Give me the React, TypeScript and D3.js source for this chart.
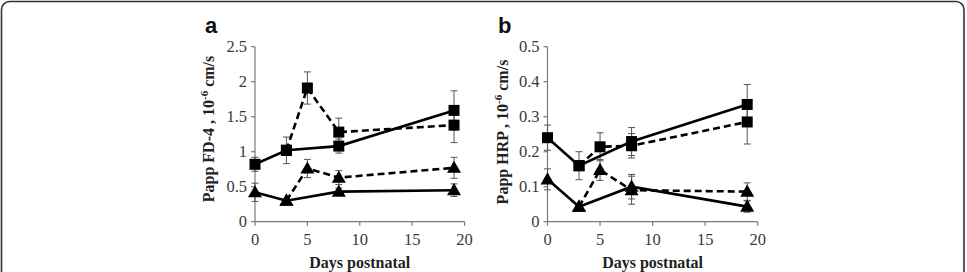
import React from "react";
import * as d3 from "d3";

// Panel a: Papp FD-4 (10^-6 cm/s) by postnatal day
const fd4SolidSqDays = [0, 3, 8, 19];
const fd4SolidSq = [0.82, 1.02, 1.08, 1.59];
const fd4SolidSqErr = [0.1, 0.19, 0.1, 0.28];
const fd4DashSqDays = [3, 5, 8, 19];
const fd4DashSq = [1.02, 1.91, 1.28, 1.38];
const fd4DashSqErr = [0, 0.23, 0.2, 0.25];
const fd4SolidTriDays = [0, 3, 8, 19];
const fd4SolidTri = [0.42, 0.3, 0.43, 0.45];
const fd4SolidTriErr = [0.13, 0.03, 0.05, 0.09];
const fd4DashTriDays = [3, 5, 8, 19];
const fd4DashTri = [0.3, 0.76, 0.63, 0.77];
const fd4DashTriErr = [0, 0.13, 0.1, 0.15];

// Panel b: Papp HRP (10^-6 cm/s) by postnatal day
const hrpSolidSqDays = [0, 3, 8, 19];
const hrpSolidSq = [0.24, 0.16, 0.229, 0.335];
const hrpSolidSqErr = [0.036, 0.04, 0.04, 0.057];
const hrpDashSqDays = [3, 5, 8, 19];
const hrpDashSq = [0.16, 0.214, 0.217, 0.285];
const hrpDashSqErr = [0, 0.04, 0.035, 0.063];
const hrpSolidTriDays = [0, 3, 8, 19];
const hrpSolidTri = [0.121, 0.043, 0.1, 0.043];
const hrpSolidTriErr = [0.03, 0.008, 0.035, 0.016];
const hrpDashTriDays = [3, 5, 8, 19];
const hrpDashTri = [0.043, 0.148, 0.09, 0.086];
const hrpDashTriErr = [0, 0.03, 0.04, 0.025];

const xTicks = [0, 5, 10, 15, 20];
const fd4Ticks = [0, 0.5, 1, 1.5, 2, 2.5];
const hrpTicks = [0, 0.1, 0.2, 0.3, 0.4, 0.5];

type Series = {
  x: number[];
  y: number[];
  err: number[];
  marker: "square" | "triangle";
  dashed: boolean;
};

type PanelProps = {
  letter: string;
  label: string;
  x0: number;
  x1: number;
  yMax: number;
  yTicks: number[];
  tickFmt: (v: number) => string;
  series: Series[];
  labelX: number;
  labelY: number;
  letterX: number;
};

const SERIF = "'Liberation Serif', 'Times New Roman', serif";
const SANS = "'Liberation Sans', Arial, sans-serif";
const Y0 = 221.7;
const Y1 = 46.7;

function Panel(p: PanelProps) {
  const x = d3.scaleLinear().domain([0, 20]).range([p.x0, p.x1]);
  const y = d3.scaleLinear().domain([0, p.yMax]).range([Y0, Y1]);
  const line = d3
    .line<[number, number]>()
    .x((d) => x(d[0]))
    .y((d) => y(d[1]));
  const axisColor = "#7a7a7a";
  const textColor = "#3a3a3a";
  const triPath = d3.symbol(d3.symbolTriangle, 85)()!;
  const [labMain, labRest] = p.label.split("|");

  return (
    <g>
      <text
        x={p.letterX}
        y={33}
        fontFamily={SANS}
        fontWeight="bold"
        fontSize={22}
        fill="#111"
      >
        {p.letter}
      </text>
      {/* axes */}
      <line x1={p.x0} x2={p.x0} y1={Y0} y2={Y1} stroke={axisColor} strokeWidth={1.2} />
      <line x1={p.x0} x2={p.x1} y1={Y0} y2={Y0} stroke={axisColor} strokeWidth={1.2} />
      {p.yTicks.map((t) => (
        <g key={"y" + t}>
          <line x1={p.x0 - 4} x2={p.x0} y1={y(t)} y2={y(t)} stroke={axisColor} strokeWidth={1.2} />
          <text
            x={p.x0 - 8}
            y={y(t)}
            dy="0.35em"
            textAnchor="end"
            fontFamily={SERIF}
            fontSize={16.5}
            fill={textColor}
          >
            {p.tickFmt(t)}
          </text>
        </g>
      ))}
      {xTicks.map((t) => (
        <g key={"x" + t}>
          <line x1={x(t)} x2={x(t)} y1={Y0} y2={Y0 + 4} stroke={axisColor} strokeWidth={1.2} />
          <text
            x={x(t)}
            y={245}
            textAnchor="middle"
            fontFamily={SERIF}
            fontSize={16.5}
            fill={textColor}
          >
            {t}
          </text>
        </g>
      ))}
      <text
        x={(p.x0 + p.x1) / 2}
        y={268}
        textAnchor="middle"
        fontFamily={SERIF}
        fontWeight="bold"
        fontSize={16}
        fill="#222"
      >
        Days postnatal
      </text>
      <text
        transform={`translate(${p.labelX},${p.labelY}) rotate(-90)`}
        textAnchor="middle"
        fontFamily={SERIF}
        fontWeight="bold"
        fontSize={16}
        fill="#222"
      >
        {labMain}
        <tspan fontSize={11} dy={-6}>
          -6
        </tspan>
        <tspan dy={6}>{" " + labRest}</tspan>
      </text>
      {/* error bars */}
      {p.series.map((s, si) =>
        s.x.map((d, i) =>
          s.err[i] > 0 ? (
            <g key={`e${si}-${i}`} stroke="#555" strokeWidth={1}>
              <line x1={x(d)} x2={x(d)} y1={y(s.y[i] - s.err[i])} y2={y(s.y[i] + s.err[i])} />
              <line x1={x(d) - 3.5} x2={x(d) + 3.5} y1={y(s.y[i] + s.err[i])} y2={y(s.y[i] + s.err[i])} />
              <line x1={x(d) - 3.5} x2={x(d) + 3.5} y1={y(s.y[i] - s.err[i])} y2={y(s.y[i] - s.err[i])} />
            </g>
          ) : null
        )
      )}
      {/* lines */}
      {p.series.map((s, si) => (
        <path
          key={"l" + si}
          d={line(s.x.map((d, i) => [d, s.y[i]] as [number, number]))!}
          fill="none"
          stroke="#000"
          strokeWidth={2.6}
          strokeDasharray={s.dashed ? "7,4" : undefined}
        />
      ))}
      {/* markers */}
      {p.series.map((s, si) =>
        s.x.map((d, i) =>
          s.marker === "square" ? (
            <rect
              key={`m${si}-${i}`}
              x={x(d) - 5.5}
              y={y(s.y[i]) - 5.5}
              width={11}
              height={11}
              fill="#000"
            />
          ) : (
            <path
              key={`m${si}-${i}`}
              d={triPath}
              transform={`translate(${x(d)},${y(s.y[i]) + 1})`}
              fill="#000"
            />
          )
        )
      )}
    </g>
  );
}

export default function App() {
  const fmtA = (v: number) => d3.format("")(v);
  const fmtB = (v: number) => (v === 0 ? "0" : d3.format(".1f")(v));
  const seriesA: Series[] = [
    { x: fd4SolidSqDays, y: fd4SolidSq, err: fd4SolidSqErr, marker: "square", dashed: false },
    { x: fd4DashSqDays, y: fd4DashSq, err: fd4DashSqErr, marker: "square", dashed: true },
    { x: fd4SolidTriDays, y: fd4SolidTri, err: fd4SolidTriErr, marker: "triangle", dashed: false },
    { x: fd4DashTriDays, y: fd4DashTri, err: fd4DashTriErr, marker: "triangle", dashed: true },
  ];
  const seriesB: Series[] = [
    { x: hrpSolidSqDays, y: hrpSolidSq, err: hrpSolidSqErr, marker: "square", dashed: false },
    { x: hrpDashSqDays, y: hrpDashSq, err: hrpDashSqErr, marker: "square", dashed: true },
    { x: hrpSolidTriDays, y: hrpSolidTri, err: hrpSolidTriErr, marker: "triangle", dashed: false },
    { x: hrpDashTriDays, y: hrpDashTri, err: hrpDashTriErr, marker: "triangle", dashed: true },
  ];
  return (
    <svg
      width={967}
      height={272}
      style={{ position: "absolute", left: 0, top: 0, background: "#fff" }}
    >
      <rect
        x={1.5}
        y={1.5}
        width={962.5}
        height={300}
        rx={8}
        fill="#fff"
        stroke="#333"
        strokeWidth={1.6}
      />
      <Panel
        letter="a"
        label="Papp FD-4 , 10|cm/s"
        x0={255}
        x1={464.5}
        yMax={2.5}
        yTicks={fd4Ticks}
        tickFmt={fmtA}
        series={seriesA}
        labelX={214}
        labelY={129}
        letterX={205}
      />
      <Panel
        letter="b"
        label="Papp HRP , 10|cm/s"
        x0={547.5}
        x1={757.7}
        yMax={0.5}
        yTicks={hrpTicks}
        tickFmt={fmtB}
        series={seriesB}
        labelX={508}
        labelY={132}
        letterX={498}
      />
    </svg>
  );
}
